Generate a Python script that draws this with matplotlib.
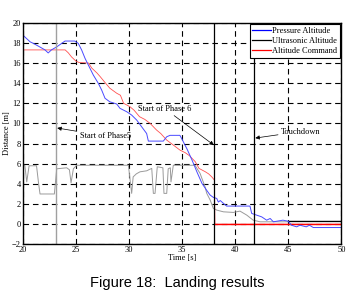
import matplotlib
matplotlib.use('Agg')
import matplotlib.pyplot as plt
import numpy as np
from matplotlib.lines import Line2D

# pressure altitude (blue)
press_t = [20, 20.7, 21.0, 21.6, 22.1, 22.4, 22.7, 23.2, 23.67, 23.98, 24.9, 25.23, 25.55,
           25.87, 26.18, 26.65, 27.12, 27.44, 27.75, 28.2, 28.85, 29.16, 29.8, 30.26, 30.73,
           31.2, 31.67, 31.83, 33.24, 33.56, 33.87, 34.8, 34.97, 35.5, 35.94, 36.4, 36.88,
           37.3, 37.64, 37.95, 38.27, 38.42, 38.6, 38.9, 39.2, 41.4, 41.56, 42.03, 42.5,
           42.97, 43.3, 43.6, 44.5, 45.0, 45.3, 45.8, 46.1, 46.7, 47.0, 47.36, 50]
press_h = [18.78, 18.1, 17.95, 17.6, 17.3, 17.0, 17.3, 17.6, 17.95, 18.18, 18.18, 17.95, 17.29,
           16.46, 15.8, 14.8, 13.98, 13.3, 12.5, 12.15, 11.93, 11.5, 11.16, 10.83, 10.34,
           9.67, 9.0, 8.25, 8.25, 8.68, 8.82, 8.82, 8.5, 7.4, 6.37, 5.2, 4.05,
           3.4, 2.9, 2.66, 2.56, 2.2, 2.35, 2.07, 1.8, 1.8, 1.07, 0.9, 0.73,
           0.4, 0.57, 0.24, 0.4, 0.3, -0.1, -0.26, -0.1, -0.26, -0.1, -0.33, -0.33]

# ultrasonic altitude (grey)
ultra_t = [20, 20.2, 20.38, 20.6, 21.3, 21.5, 21.63, 22.98, 23.2, 24.14, 24.4, 24.55, 24.77,
           25.08, 29.95, 30.1, 30.26, 30.4, 30.7, 31.04, 31.67, 32.15, 32.3, 32.46, 32.67,
           33.2, 33.3, 33.56, 33.7, 33.9, 33.96, 34.18, 36.22, 36.7, 37.17, 37.33, 37.65,
           37.95, 38.27, 38.9, 39.83, 40.46, 41.1, 41.7, 42.35, 44.95, 45.0, 50]
ultra_h = [5.85, 5.85, 4.2, 5.8, 5.8, 4.0, 3.0, 3.0, 5.5, 5.6, 5.4, 4.1, 5.5,
           5.85, 5.85, 4.5, 3.06, 4.7, 5.0, 5.2, 5.3, 5.54, 3.06, 3.06, 5.7,
           5.6, 3.06, 3.06, 5.5, 5.6, 4.2, 5.85, 5.85, 5.04, 3.7, 3.06, 2.4,
           1.57, 1.4, 1.23, 1.17, 1.3, 0.9, 0.4, 0.24, 0.24, 0.29, 0.29]

# altitude command (red)
cmd_t = [20, 24.0, 24.3, 24.6, 25.0, 25.3, 26.2, 26.5, 27.0, 27.3, 27.8, 28.2, 28.85, 29.2,
         29.5, 30.1, 30.5, 31.0, 31.5, 32.0, 32.6, 33.0, 33.56, 34.0, 34.8, 35.3, 35.7,
         36.25, 36.6, 37.2, 37.5, 37.8, 38.05, 38.1, 50]
cmd_h = [17.3, 17.3, 17.0, 16.6, 16.2, 16.05, 16.0, 15.5, 15.0, 14.64, 14.0, 13.5, 13.0, 12.8,
         12.0, 11.66, 11.3, 10.67, 10.4, 10.0, 9.35, 9.0, 8.35, 8.0, 7.36, 7.1, 6.8,
         6.2, 5.54, 5.2, 5.0, 4.7, 4.38, 0.0, 0.0]

phase5_t = 23.15
phase6_t = 38.0
touchdown_t = 41.8

serif = 'Liberation Serif'
fs = 6

fig = plt.figure(figsize=(3.64, 2.93), dpi=100)
ax = fig.add_axes([0.0624, 0.166, 0.8753, 0.7565])

ax.set_xlim(20, 50)
ax.set_ylim(-2, 20)
ax.set_xticks(np.arange(20, 51, 5))
ax.set_yticks(np.arange(-2, 21, 2))
ax.grid(True, color='k', linestyle=(0, (5, 3.5)), linewidth=0.8)
ax.tick_params(direction='in', length=2, width=0.6, labelsize=fs, pad=1.5)
for lbl in ax.get_xticklabels() + ax.get_yticklabels():
    lbl.set_family(serif)
for s in ax.spines.values():
    s.set_linewidth(1.0)

ut = np.array(ultra_t)
uh = np.array(ultra_h)
ax.plot(ut, uh, color='#9a9a9a', lw=0.7)
end = ut >= 45
ax.plot(ut[end], uh[end], color='k', lw=0.9)

ct = np.array(cmd_t)
ch = np.array(cmd_h)
ax.plot(ct, ch, color='#ff5050', lw=0.6)
flat = ct >= 38.1
ax.plot(ct[flat], ch[flat], color='red', lw=1.0)

ax.plot(press_t, press_h, color='#4a4aff', lw=0.7)

ax.axvline(phase5_t, color='#a0a0a0', lw=1.0)
ax.axvline(phase6_t, color='k', lw=0.9)
ax.axvline(touchdown_t, color='k', lw=0.9)

arrow = dict(arrowstyle='-|>', color='k', lw=0.5, mutation_scale=6, shrinkA=0, shrinkB=0)
ax.annotate('Start of Phase5', xy=(23.25, 9.55), xytext=(25.35, 8.75),
            ha='left', va='center', fontsize=fs, family=serif, arrowprops=arrow)
ax.annotate('Start of Phase 6', xy=(38.0, 7.85), xytext=(33.4, 11.45),
            ha='center', va='center', fontsize=fs, family=serif, arrowprops=arrow)
ax.annotate('Touchdown', xy=(41.9, 8.55), xytext=(44.3, 9.2),
            ha='left', va='center', fontsize=fs, family=serif, arrowprops=arrow)

handles = [Line2D([], [], color='blue', lw=0.9),
           Line2D([], [], color='k', lw=0.9),
           Line2D([], [], color='red', lw=0.9)]
leg = ax.legend(handles, ['Pressure Altitude', 'Ultrasonic Altitude', 'Altitude Command'],
                loc='upper right', bbox_to_anchor=(1, 1), borderaxespad=0.2,
                prop={'family': serif, 'size': fs}, fancybox=False, framealpha=1,
                edgecolor='k', handlelength=2.2, handletextpad=0.15, labelspacing=0.25,
                borderpad=0.3)
leg.get_frame().set_linewidth(0.8)

ax.set_xlabel('Time [s]', fontsize=fs, family=serif, labelpad=0)
ax.set_ylabel('Distance [m]', fontsize=fs, family=serif, labelpad=0.5)

fig.text(0.488, 0.034, 'Figure 18:  Landing results', ha='center', va='center',
         fontsize=10.5, family='Liberation Sans')

fig.savefig('out.png', dpi=100)
